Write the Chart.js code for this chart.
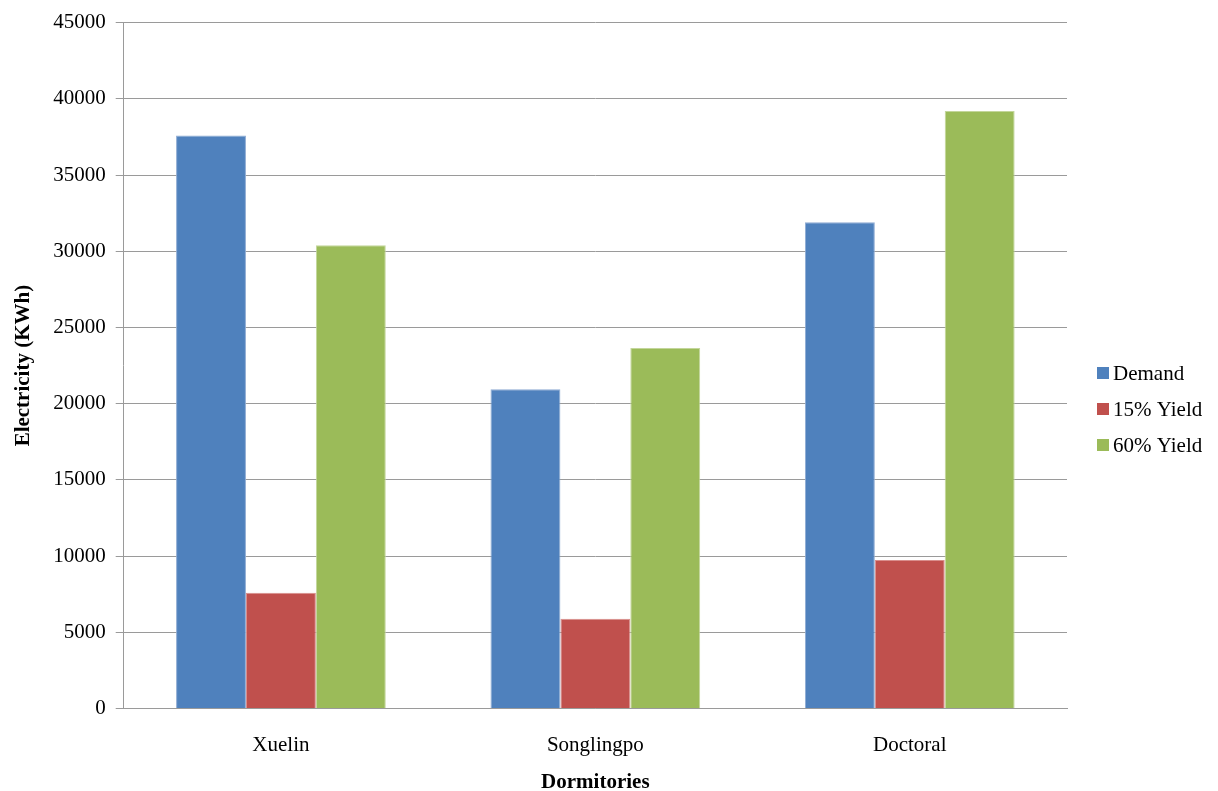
<!DOCTYPE html>
<html>
<head>
<meta charset="utf-8">
<script src="https://cdn.jsdelivr.net/npm/chart.js@4/dist/chart.umd.min.js"></script>
<style>
    html, body { margin: 0; padding: 0; background: #fff; }
    #wrap { width: 1218px; height: 791px; }
</style>
</head>
<body>
<div id="wrap"><canvas id="dormChart" width="1218" height="791"></canvas></div>
<script>
const dormitories = ['Xuelin', 'Songlingpo', 'Doctoral'];
const demand = [37600, 20950, 31900];
const yield15 = [7600, 5900, 9750];
const yield60 = [30400, 23650, 39200];
const seriesNames = ['Demand', '15% Yield', '60% Yield'];

const colors = {
    blue: '#4F81BD',
    red: '#C0504D',
    green: '#9BBB59',
    grid: '#9a9a9a'
};

const serif = "'Liberation Serif', 'Times New Roman', serif";

// right-side legend drawn by hand so it sits where Excel put it
const sideLegend = {
    id: 'sideLegend',
    afterDraw(chart) {
        const ctx = chart.ctx;
        const area = chart.chartArea;
        const x = area.right + 30;
        let y = 373;
        ctx.save();
        ctx.font = '21px ' + serif;
        ctx.textBaseline = 'middle';
        chart.data.datasets.forEach(ds => {
            ctx.fillStyle = ds.backgroundColor;
            ctx.fillRect(x, y - 6, 12, 12);
            ctx.fillStyle = '#000';
            ctx.fillText(ds.label, x + 16, y + 1);
            y += 36;
        });
        ctx.restore();
    }
};

new Chart(document.getElementById('dormChart').getContext('2d'), {
    type: 'bar',
    data: {
        labels: dormitories,
        datasets: [
            { label: seriesNames[0], data: demand, backgroundColor: colors.blue, borderColor: '#8EABD3', borderWidth: 1 },
            { label: seriesNames[1], data: yield15, backgroundColor: colors.red, borderColor: '#D98E8C', borderWidth: 1 },
            { label: seriesNames[2], data: yield60, backgroundColor: colors.green, borderColor: '#C3D69B', borderWidth: 1 }
        ]
    },
    options: {
        responsive: false,
        animation: false,
        categoryPercentage: 0.667,
        barPercentage: 1.0,
        layout: { padding: { top: 18, right: 151, bottom: 0, left: 0 } },
        plugins: {
            legend: { display: false },
            tooltip: { enabled: false }
        },
        scales: {
            y: {
                min: 0,
                max: 45000,
                ticks: {
                    stepSize: 5000,
                    padding: 10,
                    color: '#000',
                    font: { family: serif, size: 21 },
                    callback: v => String(v)
                },
                grid: { color: colors.grid, tickLength: 8, lineWidth: 1 },
                border: { display: true, color: colors.grid },
                title: {
                    display: true,
                    text: 'Electricity (KWh)',
                    color: '#000',
                    font: { family: serif, size: 21, weight: 'bold' },
                    padding: { top: 11, bottom: 7 }
                }
            },
            x: {
                ticks: {
                    padding: 24,
                    color: '#000',
                    font: { family: serif, size: 21 }
                },
                grid: { display: false, drawTicks: false },
                border: { display: true, color: colors.grid },
                title: {
                    display: true,
                    text: 'Dormitories',
                    color: '#000',
                    font: { family: serif, size: 21, weight: 'bold' },
                    padding: { top: -12, bottom: -4 }
                }
            }
        }
    },
    plugins: [sideLegend]
});
</script>
</body>
</html>
